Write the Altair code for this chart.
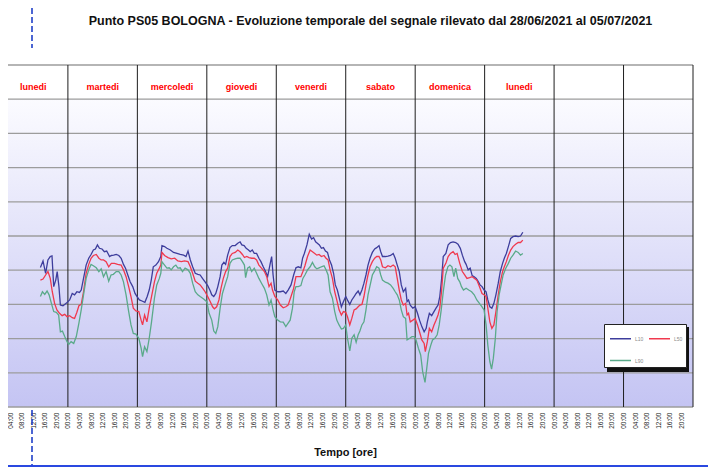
import altair as alt
import pandas as pd

TITLE = "Punto PS05 BOLOGNA - Evoluzione temporale del segnale rilevato dal 28/06/2021 al 05/07/2021"
X_TITLE = "Tempo [ore]"
DAY_NAMES = ["lunedi", "martedi", "mercoledi", "giovedi", "venerdi", "sabato", "domenica", "lunedi"]
SERIES = ["L10", "L50", "L90"]
COLORS = ["#3d3d9c", "#f0394e", "#5aaa8a"]

X_DOMAIN = [3.3, 240]          # hours from 28/06 00:00 (left part of first day is cut)
Y_DOMAIN = [20, 120]           # dB
HEADER_DB = [110, 120]         # white header band with the day names
GRID_DB = list(range(20, 121, 10))
DAY_BOUNDS = list(range(24, 241, 24))
TICK_HOURS = list(range(4, 237, 4))

# (hour, dB)
L10 = [(14.5,60.8),(15.4,62.7),(16.3,59.1),(17.1,63.0),(17.9,64.0),(18.5,64.2),(19.1,55.2),(19.8,57.1),(20.3,59.6),(20.9,55.2),
       (21.4,49.8),(22.3,49.6),(23.4,50.3),(24.6,51.3),(25.5,53.2),(26.3,52.8),(27.1,53.7),(28.0,53.5),(28.6,54.2),(29.4,57.6),
       (30.3,61.5),(31.2,63.5),(32.0,64.6),(32.8,65.9),(33.5,66.2),(34.2,67.4),(34.9,66.4),(35.8,66.2),(36.6,65.4),(37.4,65.6),
       (38.4,64.0),(39.0,64.3),(39.8,64.4),(40.7,64.6),(41.6,64.3),(42.4,63.5),(43.2,61.7),(43.9,60.6),(44.7,58.6),(45.5,56.6),
       (46.4,55.2),(47.2,53.2),(47.9,52.3),(48.7,51.3),(49.6,51.0),(50.6,50.6),(51.4,52.3),(52.1,54.2),(52.8,57.1),(53.5,61.0),
       (54.4,61.5),(55.3,62.5),(56.1,64.0),
       (56.5,67.2),(57.4,66.9),(58.2,66.4),(59.4,65.9),(60.5,65.2),(61.7,64.9),(62.8,64.6),(64.0,64.4),(64.8,64.0),(65.5,65.6),
       (66.3,63.0),(67.1,61.0),(68.0,59.1),(68.9,58.8),(69.7,58.6),(70.5,57.6),(71.4,56.6),(72.3,55.5),(73.2,53.9),(73.7,52.8),
       (74.4,52.3),(75.1,53.2),(75.8,55.2),(76.6,58.1),(77.2,61.5),(77.9,62.3),(78.5,61.7),(79.2,64.4),(80.0,66.6),(80.8,67.2),
       (81.8,67.2),(82.7,67.9),(83.5,68.3),(84.1,67.4),(84.9,67.2),(85.6,66.4),(86.4,65.9),(87.0,65.4),(87.7,65.9),(88.4,64.9),
       (89.2,64.9),(90.0,63.5),(90.7,62.5),(91.5,61.0),(92.3,59.6),(93.0,58.1),(93.8,61.5),(94.4,64.0),(94.9,58.6),(95.5,54.2),
       (96.5,53.7),(97.4,53.7),(98.4,53.9),
       (99.3,53.2),(100.1,54.2),(101.1,55.7),(102.0,58.6),(102.8,60.7),(103.6,61.0),(104.5,60.7),(105.1,63.5),(105.7,64.9),(106.6,67.4),
       (107.4,70.5),(108.2,69.1),(108.9,69.5),(109.6,68.3),(110.2,67.9),(110.9,67.4),(111.6,66.4),(112.3,66.6),(113.0,65.6),(113.7,65.2),
       (114.4,63.0),(115.1,61.5),(115.8,59.1),(116.4,55.7),(117.1,54.2),(117.8,51.8),(118.5,49.3),(119.2,50.8),(120.0,52.3),(120.6,51.3),
       (121.4,50.0),(122.1,51.3),(122.9,52.3),(123.6,53.2),(124.3,53.9),(124.9,52.8),(125.6,54.2),(126.3,56.2),(127.0,58.6),(127.7,61.5),
       (128.4,63.5),(129.2,65.2),(130.0,66.2),(130.7,66.6),(131.5,67.2),(132.1,65.4),(132.7,64.0),(133.7,64.0),(134.6,64.1),(135.5,64.3),
       (136.4,64.9),(137.1,63.5),(137.8,61.5),(138.5,59.6),(139.2,55.7),(139.9,53.7),(140.7,54.7),
       (141.2,50.8),(141.7,51.3),(142.3,49.8),(143.2,48.9),(144.0,49.3),(144.8,47.4),(145.5,45.4),(146.3,43.5),(147.1,42.0),(147.8,43.0),
       (148.2,44.9),(148.9,47.4),(149.7,46.7),(150.5,47.9),(151.2,48.9),(151.9,49.8),(152.5,52.3),(153.1,57.1),(153.7,64.0),(154.6,64.9),
       (155.4,67.4),(156.2,68.1),(157.1,68.3),(158.0,68.1),(158.8,67.6),(159.6,66.4),(160.3,64.4),(161.1,62.5),(161.6,61.7),(162.3,60.1),
       (163.0,60.6),(163.7,58.4),(164.4,58.1),(165.1,57.6),(165.7,56.8),(166.4,55.7),(167.1,55.2),(167.8,54.2),(168.5,53.7),(169.1,51.3),
       (169.8,49.3),(170.5,48.9),(171.2,50.3),(171.9,52.8),(172.7,56.2),(173.4,59.6),(174.2,62.0),(174.8,63.5),(175.5,64.9),(176.2,66.9),
       (177.0,69.3),(177.8,69.8),(178.7,70.0),(179.6,69.8),(180.4,70.0),(181.2,71.1)]

L50 = [(14.5,57.1),(15.4,57.4),(16.3,58.6),(17.1,59.6),(17.9,57.6),(18.6,53.7),(19.4,50.3),(20.2,48.4),(21.1,47.4),(22.0,46.7),
       (22.9,47.1),(23.7,46.4),(24.6,46.7),(25.5,46.1),(26.3,45.9),(27.1,47.7),(27.8,49.6),(28.6,50.0),(29.4,53.7),(30.3,59.1),
       (31.2,61.7),(32.0,63.5),(32.8,64.3),(33.8,64.6),(34.7,63.5),(35.5,63.0),(36.3,63.0),(37.2,62.5),(38.1,61.0),(39.0,62.0),
       (40.1,62.0),(41.2,61.7),(42.4,61.5),(43.2,60.1),(44.1,58.1),(45.0,55.2),(45.8,52.3),(46.6,48.9),(47.5,48.1),(48.5,47.9),
       (49.3,45.4),(49.8,44.0),(50.5,46.9),(51.3,44.9),(52.1,48.9),(52.9,52.3),(53.9,56.6),(54.7,59.1),(55.6,60.6),(56.1,61.5),
       (56.5,65.2),(57.4,64.3),(58.6,63.7),(59.7,63.3),(60.9,63.5),(62.0,62.7),(63.2,62.5),(64.3,62.7),(65.5,62.5),(66.3,61.0),
       (67.1,59.1),(68.0,56.8),(68.9,56.2),(69.7,55.7),(70.6,54.7),(71.4,53.7),(72.3,52.3),(73.2,50.8),(74.0,49.3),(74.6,48.7),
       (75.4,49.3),(76.2,51.3),(76.9,54.7),(77.7,57.6),(78.5,59.6),(79.2,60.6),(80.0,64.0),(80.8,64.9),(81.8,65.2),(82.7,65.9),
       (83.5,65.4),(84.3,64.6),(85.0,63.7),(85.8,64.0),(86.6,63.7),(87.5,63.5),(88.4,63.5),(89.2,63.0),(90.0,61.5),(90.9,60.6),
       (91.9,59.6),(92.7,58.1),(93.5,55.2),(94.2,56.2),(94.7,54.2),(95.5,52.3),(96.5,51.3),(97.4,49.8),(98.4,49.0),
       (99.3,49.3),(100.1,49.8),(101.1,52.3),(102.0,54.7),(102.8,58.1),(103.6,58.1),(104.5,58.1),(105.2,59.6),(105.9,61.3),(106.8,64.0),
       (107.7,65.9),(108.5,65.4),(109.3,64.9),(110.0,64.4),(110.8,64.6),(111.6,64.0),(112.5,64.3),(113.2,63.5),(113.9,63.0),(114.6,60.1),
       (115.4,57.6),(116.2,53.7),(116.9,51.3),(117.7,48.4),(118.5,46.9),(119.2,47.9),(120.0,47.7),(120.6,46.4),(121.4,44.0),(122.1,45.9),
       (122.9,48.4),(123.6,48.7),(124.3,49.3),(124.9,49.8),(125.6,50.0),(126.3,52.3),(127.0,55.7),(127.7,58.6),(128.4,61.0),(129.2,62.5),
       (130.0,63.5),(130.7,64.0),(131.5,64.0),(132.1,63.0),(132.7,61.0),(133.7,60.7),(134.6,61.3),(135.5,61.0),(136.4,61.5),(137.1,61.0),
       (137.8,57.6),(138.5,54.2),(139.2,51.3),(139.9,49.8),(140.7,50.3),
       (141.2,46.9),(141.7,47.4),(142.3,44.9),(143.2,45.4),(144.0,45.9),(144.8,44.0),(145.5,42.0),(146.3,39.6),(147.1,38.6),(147.5,36.2),
       (148.2,39.1),(148.9,43.0),(149.7,42.0),(150.5,44.0),(151.2,45.4),(151.9,46.9),(152.5,48.9),(153.1,53.7),(153.7,60.6),(154.6,62.0),
       (155.4,64.0),(156.2,64.9),(157.1,65.4),(157.8,64.6),(158.5,64.9),(159.4,62.0),(160.3,59.6),(161.1,58.6),(161.9,57.6),(162.8,57.8),
       (163.7,58.1),(164.5,57.6),(165.3,57.1),(166.2,55.2),(167.1,53.2),(167.8,52.8),(168.5,52.3),(169.1,48.9),(169.8,44.9),(170.5,43.0),
       (171.2,44.0),(171.9,47.9),(172.7,52.8),(173.4,56.6),(174.2,59.6),(174.8,61.0),(175.5,62.5),(176.2,64.3),(177.0,65.9),(177.8,66.9),
       (178.7,67.6),(179.6,68.1),(180.4,68.1),(181.2,68.8)]

L90 = [(14.5,52.3),(15.2,53.7),(16.0,52.9),(16.8,53.9),(17.5,52.8),(18.3,50.3),(19.1,47.9),(20.0,47.7),(20.8,46.9),(21.4,42.0),
       (22.1,42.2),(22.9,40.6),(23.7,39.1),(24.3,38.3),(25.1,39.1),(26.0,38.6),(26.9,40.6),(27.8,44.5),(28.6,48.4),(29.4,52.8),
       (30.3,57.6),(31.2,60.1),(32.0,61.7),(32.8,61.3),(33.8,60.7),(34.7,59.6),(35.5,60.4),(36.3,58.1),(37.2,59.6),(38.1,56.8),
       (38.9,58.6),(39.7,58.8),(40.7,59.6),(41.6,59.6),(42.4,58.6),(43.2,56.6),(44.1,52.8),(45.0,47.9),(45.8,44.0),(46.6,41.5),
       (47.5,41.3),(48.5,40.1),(49.3,37.2),(49.8,34.7),(50.5,37.6),(51.3,36.2),(52.1,40.1),(52.9,44.9),(53.9,51.8),(54.7,55.7),
       (55.6,57.6),(56.1,59.1),
       (56.5,62.5),(57.4,61.5),(58.2,60.6),(59.0,60.7),(59.7,60.1),(60.5,61.0),(61.3,61.5),(62.0,60.6),(62.8,60.7),(63.6,59.6),
       (64.5,60.6),(65.5,60.1),(66.3,59.1),(67.1,56.2),(68.0,53.7),(68.9,52.8),(69.7,52.3),(70.9,51.6),(72.0,50.8),(72.8,47.4),
       (73.7,45.4),(74.4,42.2),(75.1,41.5),(75.8,43.5),(76.6,48.9),(77.4,53.2),(78.3,55.7),(79.2,58.1),(80.0,62.0),(80.8,63.0),
       (81.8,63.3),(82.7,63.5),(83.5,63.5),(84.3,62.5),(85.0,61.5),(85.4,57.8),(86.1,60.6),(86.8,61.0),(87.5,59.6),(88.4,60.6),
       (89.2,59.1),(90.0,57.6),(90.9,56.2),(91.9,54.7),(92.7,52.8),(93.5,49.8),(94.2,51.3),(94.9,48.4),(95.5,46.4),(96.5,45.4),
       (97.4,44.9),(98.4,44.8),
       (99.3,43.5),(100.1,44.5),(100.8,45.4),(101.6,48.9),(102.2,53.7),(102.8,55.2),(103.6,55.2),(104.5,55.5),(105.2,57.6),(105.9,58.6),
       (106.8,60.1),(107.7,61.0),(108.5,62.3),(109.3,61.0),(110.0,60.4),(110.8,60.7),(111.6,61.0),(112.5,61.3),(113.2,60.1),(113.9,58.6),
       (114.6,53.7),(115.4,51.8),(116.2,47.9),(116.9,45.4),(117.7,44.0),(118.5,42.8),(119.2,43.0),(120.0,44.0),(120.6,40.1),(121.4,36.4),
       (122.1,40.1),(122.9,41.1),(123.6,38.9),(124.3,41.1),(124.9,42.2),(125.6,44.0),(126.3,44.9),(127.0,48.4),(127.7,52.8),(128.4,55.5),
       (129.2,58.6),(130.0,59.8),(130.7,61.0),(131.5,60.6),(132.1,58.6),(132.7,57.1),(133.7,56.5),(134.6,56.2),(135.5,55.7),(136.4,54.7),
       (137.1,53.7),(137.8,52.8),(138.5,51.3),(139.2,48.4),(139.9,46.4),(140.7,45.9),
       (141.2,39.6),(142.1,40.1),(142.9,40.6),(143.7,40.6),(144.3,39.6),(145.1,37.2),(145.9,35.2),(146.6,30.3),(147.4,27.2),(148.0,31.3),
       (148.6,35.7),(149.4,38.1),(150.0,39.6),(150.8,40.1),(151.6,41.1),(152.3,44.0),(153.0,48.4),(153.7,53.7),(154.5,58.6),(155.3,61.0),
       (156.0,61.5),(156.7,61.0),(157.4,58.1),(158.0,60.6),(158.7,57.6),(159.4,56.6),(160.0,55.2),(160.7,54.2),(161.6,54.7),(162.5,54.2),
       (163.5,53.7),(164.4,52.8),(165.3,51.3),(166.2,50.3),(167.1,49.3),(167.8,48.4),(168.5,44.0),(169.1,38.1),(169.8,33.3),(170.4,31.1),
       (171.0,34.2),(171.7,40.1),(172.3,47.9),(173.0,52.8),(173.7,55.7),(174.4,58.6),(175.3,60.6),(176.2,62.0),(177.0,63.5),(177.8,64.4),
       (178.7,65.6),(179.6,65.2),(180.4,64.4),(181.2,64.9)]

rows = []
for name, pts in zip(SERIES, (L10, L50, L90)):
    for h, v in pts:
        rows.append({"h": h, "db": v, "serie": name})
df = pd.DataFrame(rows)

xs = alt.Scale(domain=X_DOMAIN, nice=False, zero=False)
ys = alt.Scale(domain=Y_DOMAIN, nice=False, zero=False)

X_AXIS = alt.Axis(
    values=TICK_HOURS,
    labelExpr="(datum.value % 24 < 10 ? '0' : '') + (datum.value % 24) + ':00'",
    labelAngle=270, labelFontSize=6.5, labelFont="Liberation Sans", labelColor="#222",
    labelPadding=5, labelOverlap=False, labelFlush=False,
    ticks=False, domain=False, grid=False,
    title=X_TITLE, titleFont="Liberation Sans", titleFontSize=11, titleFontWeight="bold",
    titleColor="#111", titleX=337, titleY=45, titleBaseline="middle", titleAlign="center")

# gradient plot background (below the header band)
bg_df = pd.DataFrame({"h": [X_DOMAIN[0]], "h1": [X_DOMAIN[1]], "d0": [Y_DOMAIN[0]], "d1": [HEADER_DB[0]]})
bg = alt.Chart(bg_df).mark_rect(
    fill=alt.Gradient(gradient="linear", x1=0, x2=0, y1=0, y2=1,
                      stops=[alt.GradientStop(offset=0, color="#fbfbff"),
                             alt.GradientStop(offset=1, color="#c4c4f3")])
).encode(
    x=alt.X("h:Q", scale=xs, axis=X_AXIS), x2="h1:Q",
    y=alt.Y("d0:Q", scale=ys, axis=None), y2="d1:Q",
)

hgrid = alt.Chart(pd.DataFrame({"db": GRID_DB})).mark_rule(color="#9c9c9c", strokeWidth=1.3).encode(
    y=alt.Y("db:Q", scale=ys, axis=None)
)
vgrid = alt.Chart(pd.DataFrame({"h": DAY_BOUNDS})).mark_rule(color="#1e1e1e", strokeWidth=1).encode(
    x=alt.X("h:Q", scale=xs, axis=X_AXIS)
)

lines = alt.Chart(df).mark_line(strokeWidth=1.3).encode(
    x=alt.X("h:Q", scale=xs, axis=X_AXIS),
    y=alt.Y("db:Q", scale=ys, axis=None),
    color=alt.Color("serie:N", scale=alt.Scale(domain=SERIES, range=COLORS), legend=alt.Legend(
        title=None, orient="none", legendX=596, legendY=259, columns=2, direction="horizontal",
        symbolType="stroke", symbolSize=441, symbolStrokeWidth=1.5,
        labelFontSize=5, labelColor="#8a8a8a", labelFont="Liberation Sans", labelOffset=3,
        padding=3, rowPadding=7, columnPadding=2, symbolOffset=2,
        fillColor="white", strokeColor="#222")),
    detail="serie:N",
)

days_df = pd.DataFrame({"name": DAY_NAMES, "h": [i * 24 + 12 for i in range(len(DAY_NAMES))],
                        "db": [sum(HEADER_DB) / 2] * len(DAY_NAMES)})
days = alt.Chart(days_df).mark_text(
    color="#ff0000", font="Liberation Sans", fontWeight="bold", fontSize=9, dy=5
).encode(x=alt.X("h:Q", scale=xs, axis=X_AXIS), y=alt.Y("db:Q", scale=ys, axis=None), text="name:N")

one = pd.DataFrame({"k": [0]})
shadow = alt.Chart(one).mark_rect(fill="#111").encode(
    x=alt.value(599), x2=alt.value(681), y=alt.value(262), y2=alt.value(307))

dash_top = alt.Chart(one).mark_rule(color="#2040c8", strokeWidth=1.6, strokeDash=[6, 3]).encode(
    x=alt.value(24), y=alt.value(-57), y2=alt.value(-17))
dash_bot = alt.Chart(one).mark_rule(color="#2040c8", strokeWidth=1.6, strokeDash=[6, 3]).encode(
    x=alt.value(24), y=alt.value(345), y2=alt.value(400))
hline = alt.Chart(one).mark_rule(color="#2a48e0", strokeWidth=2).encode(
    x=alt.value(-8), x2=alt.value(710), y=alt.value(401))

chart = alt.layer(bg, hgrid, vgrid, dash_bot, lines, days, shadow, dash_top, hline).properties(
    width=685, height=342,
    title=alt.TitleParams(TITLE, font="Liberation Sans", fontSize=12.5, fontWeight="bold",
                          color="#111", anchor="middle", dx=20, offset=-20, frame="group"),
    autosize=alt.AutoSizeParams(type="none"),
    padding={"left": 0, "top": 57, "right": 15, "bottom": 61},
).configure_view(stroke=None)

chart.save("out.html", embed_options={"renderer": "svg", "actions": False})
